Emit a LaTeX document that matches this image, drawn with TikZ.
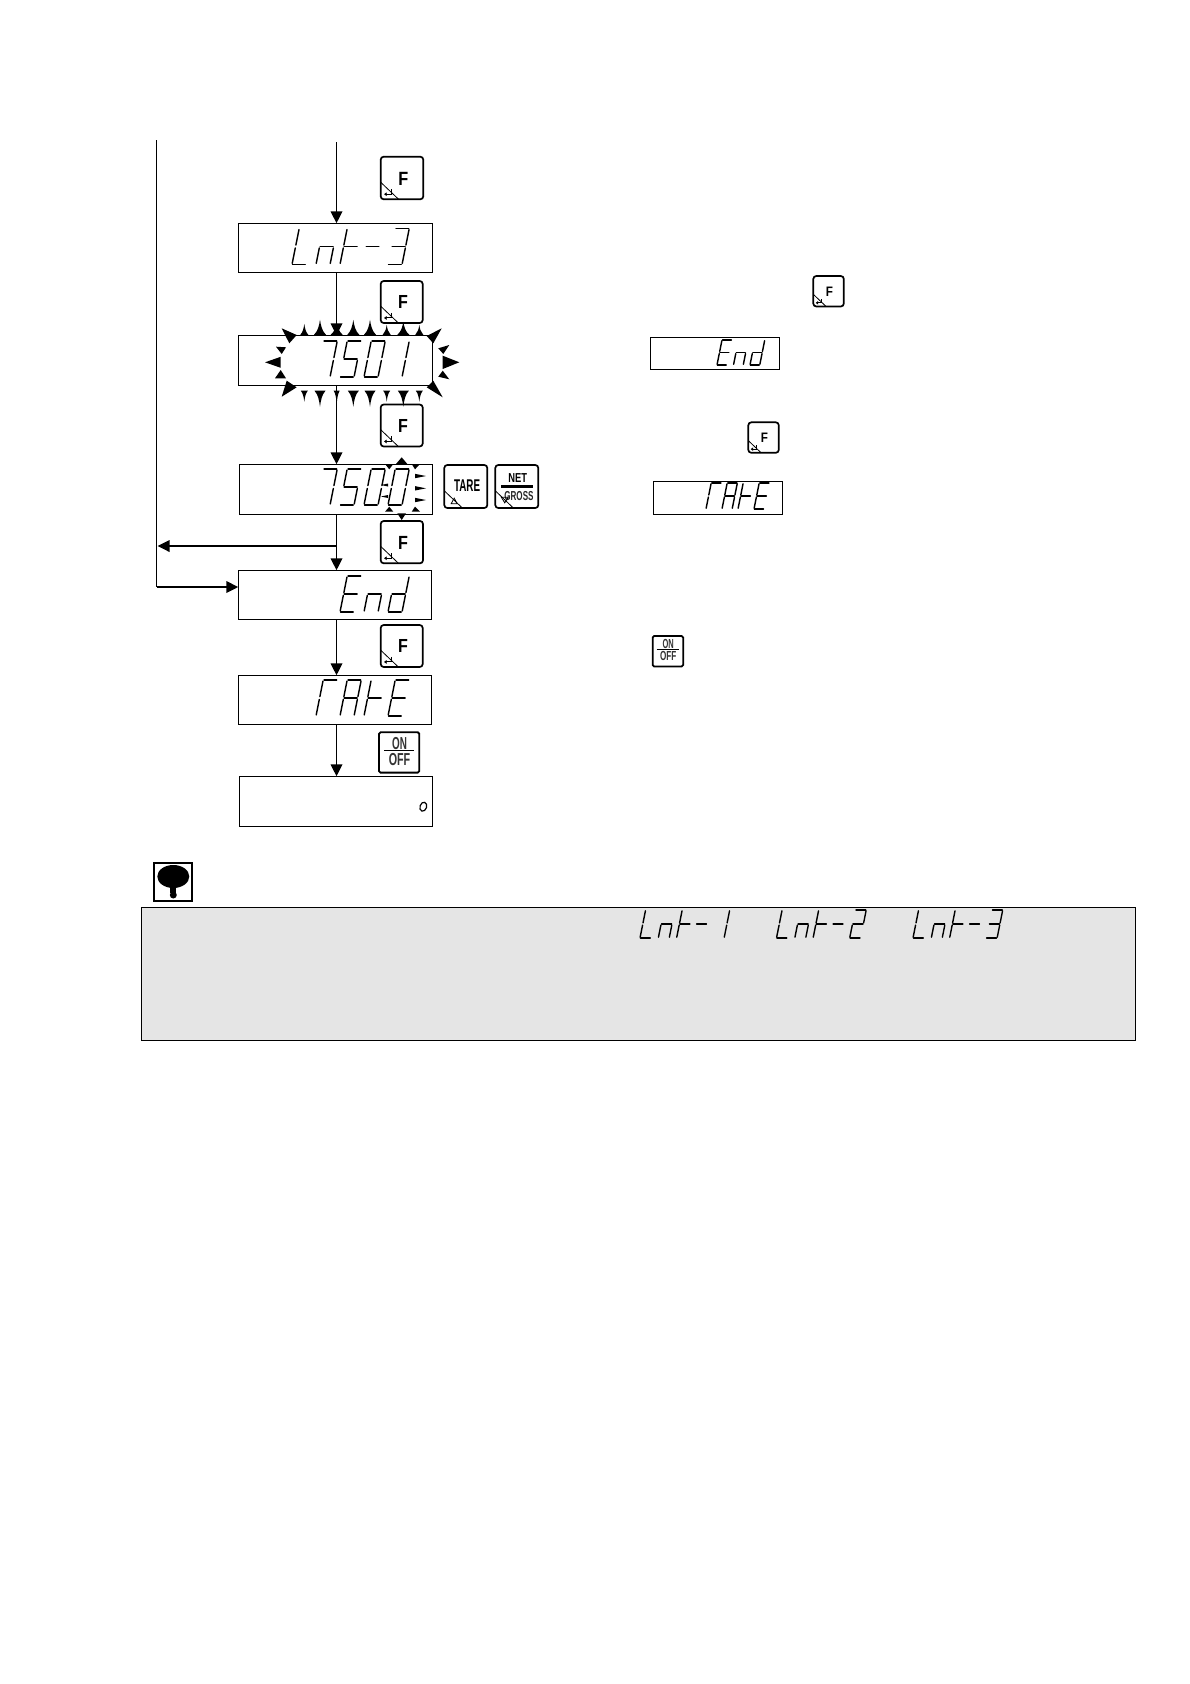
\documentclass[tikz,border=0pt]{standalone}
\usepackage{fontspec}
\setmainfont{Liberation Sans}
\usetikzlibrary{arrows.meta,calc}
\definecolor{notegrey}{HTML}{E5E5E5}
\tikzset{
  dispbox/.style={draw=black,fill=white,line width=1.1pt,inner sep=0pt,outer sep=0pt},
  keybox/.style={draw=black,fill=white,line width=1.7pt,rounded corners=3pt,inner sep=0pt,outer sep=0pt},
  onoffbox/.style={draw=black,fill=white,line width=1.8pt,rounded corners=1.5pt,inner sep=0pt,outer sep=0pt},
  flow/.style={line width=1.8pt,-{Triangle[length=12pt,width=11.5pt]}},
  plainflow/.style={line width=1.9pt},
  keytext/.style={inner sep=0pt,outer sep=0pt,font=\bfseries},
  lcd/.style={line width=1.4pt,line cap=round,black}
}
% seven-segment display elements in a unit cell
\def\sega{(.06,1) -- (.96,1)}
\def\segb{(1,.97) -- (1,.54)}
\def\segc{(1,.46) -- (1,.03)}
\def\segd{(.04,0) -- (.94,0)}
\def\sege{(0,.03) -- (0,.46)}
\def\segf{(0,.54) -- (0,.97)}
\def\segg{(.04,.5) -- (.96,.5)}
\def\segh{(-.1,.5) -- (.8,.5)}
% #1 x, #2 y of lower-left, #3 height, #4 advance, #5 list of glyphs
\newcommand\lcdrow[5]{%
  \foreach \glyph [count=\gi from 0] in {#5}{%
    \pgfmathsetmacro\gx{#1+\gi*#4}%
    \pgfmathsetmacro\gw{.39*#3}%
    \pgfmathsetmacro\gs{.2*#3}%
    \begin{scope}[shift={(\gx,#2)},x={(\gw pt,0pt)},y={(\gs pt,#3 pt)}]
      \foreach \sn in \glyph {%
        \expandafter\let\expandafter\thisseg\csname seg\sn\endcsname
        \draw[lcd] \thisseg;
      }
    \end{scope}
  }%
}
% key with the corner mark: #1 name, #2 x, #3 y, #4 size
\newcommand\keycorner[4]{%
  \node[keybox,minimum width=#4pt,minimum height=#4pt] (#1) at ({#2+#4/2},{#3+#4/2}) {};
  \begin{scope}[shift={(#2,#3)},x=#4pt,y=-#4pt]
    \draw[line width=.8pt] (0,.6) -- (.42,1);
  \end{scope}
}
\newcommand\enterkey[4]{%
  \keycorner{#1}{#2}{#3}{#4}
  \pgfmathsetmacro\fsz{.45*#4}%
  \begin{scope}[shift={(#2,#3)},x=#4pt,y=-#4pt]
    \node[keytext] (#1t) at (.53,.51) {\fontsize{\fsz}{\fsz}\selectfont\scalebox{.85}[1]{F}};
    \draw[line width=1pt,-{Triangle[length=2.5pt,width=3.5pt]}] (.26,.76) -- (.26,.88) -- (.08,.88);
  \end{scope}
}
\newcommand\onoffkey[4]{%
  \node[onoffbox,minimum width=#4pt,minimum height=#4pt] (#1) at ({#2+#4/2},{#3+#4/2}) {};
  \pgfmathsetmacro\fsz{.43*#4}%
  \begin{scope}[shift={(#2,#3)},x=#4pt,y=-#4pt]
    \node[keytext,text=black!80] (#1a) at (.51,.27) {\fontsize{\fsz}{\fsz}\selectfont\scalebox{.57}[1]{ON}};
    \node[keytext,text=black!80] (#1b) at (.51,.67) {\fontsize{\fsz}{\fsz}\selectfont\scalebox{.62}[1]{OFF}};
    \draw[line width=1.4pt] (.13,.45) -- (.86,.45);
  \end{scope}
}
\begin{document}
\begin{tikzpicture}[x=1pt,y=-1pt]
\useasboundingbox (0,0) rectangle (1190,1684);

% display boxes
\node[dispbox,minimum width=194.4pt,minimum height=49.4pt] (b1) at (335.5,248) {};
\node[dispbox,minimum width=194.4pt,minimum height=50.4pt] (b2) at (335.5,360.5) {};
\node[dispbox,minimum width=193.4pt,minimum height=50pt] (b3) at (336,489.3) {};
\node[dispbox,minimum width=193.4pt,minimum height=49pt] (b4) at (335,594.8) {};
\node[dispbox,minimum width=193.4pt,minimum height=49pt] (b5) at (335,699.8) {};
\node[dispbox,minimum width=193.4pt,minimum height=50pt] (b6) at (336,801.3) {};

% side displays
\node[dispbox,minimum width=129.4pt,minimum height=32pt] (s1) at (715,353.3) {};
\node[dispbox,minimum width=129.4pt,minimum height=33.4pt] (s2) at (718,498) {};

% connectors
\coordinate (axis) at (336.5,300);
\coordinate (start) at (336.5,142);
\coordinate (leftTop) at (156.5,140);
\coordinate (leftBot) at (156.5,587);
\coordinate (branch) at (336.5,546);
\coordinate (branchEnd) at (157.5,546);
\draw[flow] (start) -- (b1.north -| axis);
\draw[flow] (b1.south -| axis) -- (b2.north -| axis);
\draw[flow] (b2.south -| axis) -- (b3.north -| axis);
\draw[flow] (b3.south -| axis) -- (b4.north -| axis);
\draw[flow] (b4.south -| axis) -- (b5.north -| axis);
\draw[flow] (b5.south -| axis) -- (b6.north -| axis);
\draw[flow] (branch) -- (branchEnd);
\draw[plainflow] (leftTop) -- (leftBot);
\draw[flow] (leftBot) -- (leftBot -| b4.west);

% keys
\enterkey{kA}{380.7}{156.7}{42.6}
\enterkey{kB}{380.7}{281}{42}
\enterkey{kC}{380.7}{404.5}{42}
\enterkey{kD}{380.7}{521}{42.3}
\enterkey{kE}{380.7}{625}{42}
\enterkey{kF}{813.3}{276}{30.5}
\enterkey{kG}{748.3}{422.3}{30.5}
\onoffkey{kH}{379}{732.3}{40.3}
\onoffkey{kI}{652.7}{636}{30.5}

\keycorner{kT}{444.3}{465}{43}
\begin{scope}[shift={(444.3,465)},x=43pt,y=-43pt]
  \node[keytext] (kTt) at (.53,.48) {\fontsize{17}{17}\selectfont\scalebox{.58}[1]{TARE}};
  \draw[line width=.8pt] (.16,.9) -- (.3,.9) -- (.23,.77) -- cycle;
\end{scope}
\keycorner{kN}{495.3}{465}{43}
\begin{scope}[shift={(495.3,465)},x=43pt,y=-43pt]
  \node[keytext] (kNa) at (.52,.3) {\fontsize{13}{13}\selectfont\scalebox{.72}[1]{NET}};
  \node[keytext,text=black!85] (kNb) at (.55,.71) {\fontsize{13}{13}\selectfont\scalebox{.62}[1]{GROSS}};
  \fill (.13,.46) rectangle (.88,.54);
  \draw[line width=.8pt] (.14,.75) -- (.3,.75) -- (.22,.88) -- cycle;
\end{scope}

% display glyphs
\lcdrow{292}{264.5}{36}{24}{{f,e,d},{e,g,c},{f,e,g},{h},{a,b,g,c,d}}
\lcdrow{316}{377}{36}{24}{{a,b,c},{a,f,g,c,d},{a,b,c,d,e,f},{b,c}}
\lcdrow{316}{505}{36}{24}{{a,b,c},{a,f,g,c,d},{a,b,c,d,e,f},{a,b,c,d,e,f}}
\lcdrow{340}{612}{36}{24}{{a,f,g,e,d},{e,g,c},{b,c,d,e,g}}
\lcdrow{316}{716}{36}{24}{{a,f,e},{a,b,c,e,f,g},{f,e,g},{a,f,g,e,d}}
\lcdrow{717}{365}{25}{16.5}{{a,f,g,e,d},{e,g,c},{b,c,d,e,g}}
\lcdrow{706}{509}{26}{16}{{a,f,e},{a,b,c,e,f,g},{f,e,g},{a,f,g,e,d}}
\draw[line width=1.2pt,rotate around={-18:(423.3,806.7)}] (423.3,806.7) ellipse (3.3 and 4.6);

% flashing marks round 7501
\foreach \mx/\mh/\mw in {304.3/11/4,320/15/6,336.7/13/6,353.3/15/6,370/15/6,386.7/10/4,403.3/13/6,419.3/10/4}
  \fill (\mx-\mw,334.8) .. controls (\mx-.35*\mw,334.8-.25*\mh) and (\mx-.15*\mw,334.8-.6*\mh) .. (\mx,334.8-\mh)
        .. controls (\mx+.15*\mw,334.8-.6*\mh) and (\mx+.35*\mw,334.8-.25*\mh) .. (\mx+\mw,334.8) -- cycle;
\foreach \mx/\mh/\mw in {304.3/11/3.5,320/16/5.5,336.7/13/3,353.3/16/5.5,370/16/5.5,386.7/11/3.5,403.3/16/5.5,419.3/11/3.5}
  \fill (\mx-\mw,390.7) .. controls (\mx-.35*\mw,390.7+.25*\mh) and (\mx-.15*\mw,390.7+.6*\mh) .. (\mx,390.7+\mh)
        .. controls (\mx+.15*\mw,390.7+.6*\mh) and (\mx+.35*\mw,390.7+.25*\mh) .. (\mx+\mw,390.7) -- cycle;
\fill (281.7,328.3) -- (296.7,335) -- (289.3,343.3) -- cycle;
\fill (441.7,328.3) -- (426.7,336) -- (433.3,343.3) -- cycle;
\fill (281.7,396.7) -- (286.7,380.7) -- (296.7,387.3) -- cycle;
\fill (442.7,397.3) -- (433.3,380.7) -- (426.7,387.3) -- cycle;
\fill (265,362.3) -- (280.7,356.8) -- (280.7,367.8) -- cycle;
\fill (276,346.7) -- (286,347.3) -- (281.7,354) -- cycle;
\fill (275,378.3) -- (286,378.3) -- (280.7,370) -- cycle;
\fill (459.3,362.3) -- (442.7,355.7) -- (442.7,369) -- cycle;
\fill (449.3,345) -- (438.3,348.3) -- (443.3,354) -- cycle;
\fill (449.3,379.3) -- (438.3,376.7) -- (442.7,370.7) -- cycle;

% flashing marks round the last digit of 7500
\fill (385,464) -- (393.3,464) -- (389.3,469.3) -- cycle;
\fill (411.7,464) -- (420,464) -- (415,469.3) -- cycle;
\fill (401.7,457.3) -- (396,464) -- (407.3,464) -- cycle;
\foreach \my in {476,488.3,500}
  \fill (426,\my) -- (415,\my-2.2) -- (415,\my+2.2) -- cycle;
\foreach \my in {485,496.5}
  \fill (381,\my) -- (388,\my-1.5) -- (388,\my+1.5) -- cycle;
\fill (385,511.7) -- (393.3,511.7) -- (389.3,506.7) -- cycle;
\fill (411.7,511.7) -- (420,511.7) -- (415,506.7) -- cycle;
\fill (401.7,520) -- (397.3,513.3) -- (406,513.3) -- cycle;

% hint icon
\node[draw=black,line width=2pt,fill=white,minimum width=38pt,minimum height=37.5pt,inner sep=0pt,outer sep=0pt] (tip) at (173,881.8) {};
\fill (173.3,876.5) ellipse (16 and 11.5);
\fill (170.3,885) rectangle (176.3,893);
\fill (173.3,895) circle (3.5);

% note panel
\node[draw=black,fill=notegrey,line width=1pt,minimum width=994pt,minimum height=132.7pt,inner sep=0pt,outer sep=0pt] (note) at (638,973.7) {};
\lcdrow{640}{938}{28}{18.3}{{f,e,d},{e,g,c},{f,e,g},{h},{b,c}}
\lcdrow{776.5}{938}{28}{18.3}{{f,e,d},{e,g,c},{f,e,g},{h},{a,b,g,e,d}}
\lcdrow{913}{938}{28}{18.3}{{f,e,d},{e,g,c},{f,e,g},{h},{a,b,g,c,d}}
\end{tikzpicture}
\end{document}
